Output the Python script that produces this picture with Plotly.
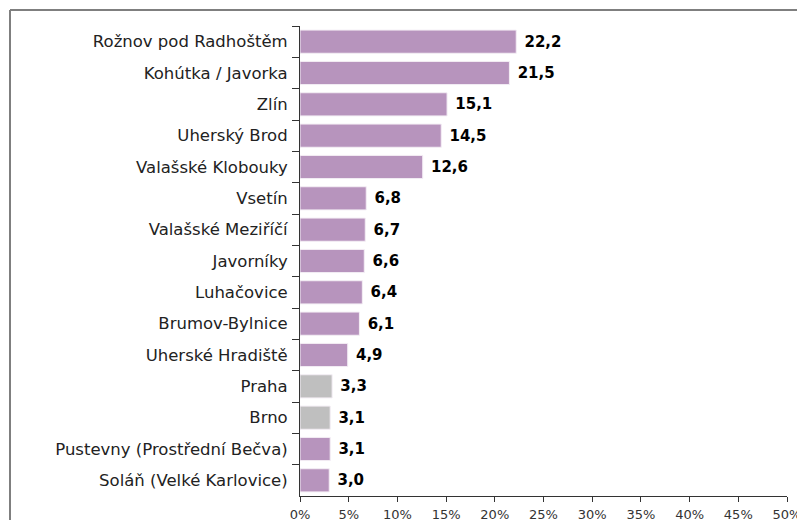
import plotly.graph_objects as go

categories = ["Rožnov pod Radhoštěm", "Kohútka / Javorka", "Zlín", "Uherský Brod",
              "Valašské Klobouky", "Vsetín", "Valašské Meziříčí", "Javorníky",
              "Luhačovice", "Brumov-Bylnice", "Uherské Hradiště", "Praha", "Brno",
              "Pustevny (Prostřední Bečva)", "Soláň (Velké Karlovice)"]
values = [22.2, 21.5, 15.1, 14.5, 12.6, 6.8, 6.7, 6.6, 6.4, 6.1, 4.9, 3.3, 3.1, 3.1, 3.0]
gray_categories = ["Praha", "Brno"]
x_ticks = [0, 5, 10, 15, 20, 25, 30, 35, 40, 45, 50]
x_tick_labels = ["0%", "5%", "10%", "15%", "20%", "25%", "30%", "35%", "40%", "45%", "50%"]

PURPLE = "#b794bd"
GRAY = "#bfbfbf"
colors = [GRAY if c in gray_categories else PURPLE for c in categories]
labels = ["\u00a0" + f"{v:.1f}".replace(".", ",") for v in values]

# the page body has an 8px margin: the figure starts at (8, 8) in the window
OFF = 8
W, H = 805 - OFF, 520 - OFF
L, R, T, B = 300 - OFF, 787 - OFF, 26 - OFF, 496 - OFF
pw, ph = R - L, B - T
fx = lambda px: (px - L) / pw
fy = lambda py: (B - py) / ph

fig = go.Figure(go.Bar(
    x=values, y=categories, orientation="h",
    marker=dict(color=colors, line=dict(color="#f4eef5", width=1)),
    text=labels, textposition="outside", cliponaxis=False,
    textfont=dict(family="DejaVu Sans", size=15, color="#000000", weight="bold"),
    width=0.74,
))

fig.update_layout(
    width=W, height=H,
    margin=dict(l=L, r=W - R, t=T, b=H - B, autoexpand=False),
    paper_bgcolor="white", plot_bgcolor="white",
    showlegend=False,
    font=dict(family="DejaVu Sans", size=14, color="#222222"),
    xaxis=dict(range=[0, 50], tickmode="array", tickvals=x_ticks, ticktext=x_tick_labels,
               showgrid=False, zeroline=False, showline=True,
               linecolor="#333333", linewidth=1, ticks="outside",
               ticklen=5, tickcolor="#333333",
               tickfont=dict(size=13, color="#333333"), ticklabelstandoff=1),
    yaxis=dict(categoryorder="array", categoryarray=categories,
               autorange="reversed", showgrid=False, zeroline=False,
               showline=True, linecolor="#333333", linewidth=1,
               ticks="outside", ticklen=7, tickcolor="#333333",
               tickson="boundaries",
               tickfont=dict(size=16.5, color="#222222"), ticklabelstandoff=8),
    shapes=[
        dict(type="line", xref="paper", yref="paper",
             x0=fx(10 - OFF), x1=fx(W + 5), y0=fy(10 - OFF), y1=fy(10 - OFF),
             line=dict(color="#7f7f7f", width=2)),
        dict(type="line", xref="paper", yref="paper",
             x0=fx(10 - OFF), x1=fx(10 - OFF), y0=fy(10 - OFF), y1=fy(H + 5),
             line=dict(color="#7f7f7f", width=2)),
    ],
)

fig.write_html("out.html")
